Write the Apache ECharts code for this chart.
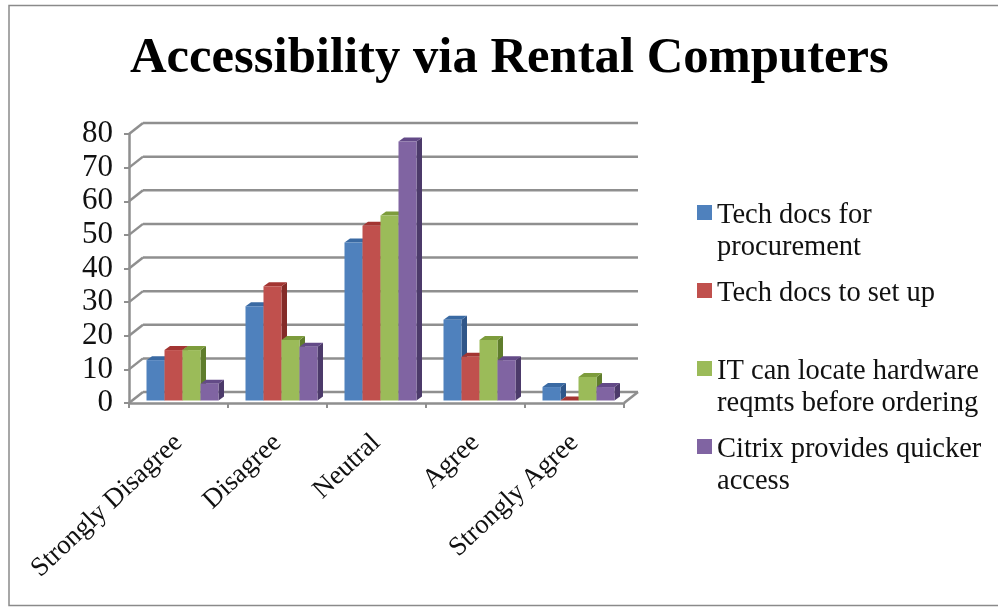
<!DOCTYPE html>
<html><head><meta charset="utf-8">
<style>html,body{margin:0;padding:0;background:#fff}#c{width:998px;height:607px}</style>
<script src="https://cdn.jsdelivr.net/npm/echarts@6/dist/echarts.min.js"></script>
</head><body><div id="c"></div>
<script>
const titleText = 'Accessibility via Rental Computers';
const categories = ['Strongly Disagree','Disagree','Neutral','Agree','Strongly Agree'];
const yTicks = [0,10,20,30,40,50,60,70,80];
const techProcurement = [12,28,47,24,4];
const techSetup = [15,34,52,13,0];
const itHardware = [15,18,55,18,7];
const citrix = [5,16,77,12,4];
const seriesNames = ['Tech docs for procurement','Tech docs to set up','IT can locate hardware reqmts before ordering','Citrix provides quicker access'];
const legendLabels = ['Tech docs for\nprocurement','Tech docs to set up','IT can locate hardware\nreqmts before ordering','Citrix provides quicker\naccess'];
const seriesValues = [techProcurement,techSetup,itHardware,citrix];
const colors = ['#4f81bd','#c0504d','#9bbb59','#8064a2'];
const topColors = ['#3a6aa3','#a33532','#7d9c3c','#634a87'];
const sideColors = ['#2f5689','#842b28','#5f7d2c','#4c3a6a'];
const legendTops = [201,279,357,435];

const FONT = 'Liberation Serif';
const GREY = '#8f8f8f';
const WALL = [14,-11], BAR_DEPTH = [5.5,-4], BAR_SHIFT = [4,-2.5], BAR_W = 18;

function renderBar(si){
  return function(params, api){
    const c = api.coord([api.value(0), api.value(1)]);
    const base = api.coord([api.value(0), 0]);
    const x = c[0] + BAR_SHIFT[0] + (si-2)*BAR_W;
    const y = c[1] + BAR_SHIFT[1], b = base[1] + BAR_SHIFT[1];
    const dx = BAR_DEPTH[0], dy = BAR_DEPTH[1];
    return {type:'group',children:[
      {type:'polygon',shape:{points:[[x+BAR_W,y],[x+BAR_W+dx,y+dy],[x+BAR_W+dx,b+dy],[x+BAR_W,b]]},style:{fill:sideColors[si]}},
      {type:'polygon',shape:{points:[[x,y],[x+dx,y+dy],[x+BAR_W+dx,y+dy],[x+BAR_W,y]]},style:{fill:topColors[si]}},
      {type:'rect',shape:{x:x,y:y,width:BAR_W,height:b-y},style:{fill:colors[si]}}
    ]};
  };
}
function renderWall(params, api){
  const v = api.value(0);
  const bw = api.size([1,0])[0];
  const p = api.coord([0,v]);
  const x0 = p[0]-bw/2, x1 = x0+bw*categories.length, y=p[1];
  const st = {stroke:GREY,lineWidth:2.5,fill:null};
  const kids = [
    {type:'line',shape:{x1:x0,y1:y,x2:x0+WALL[0],y2:y+WALL[1]},style:st},
    {type:'line',shape:{x1:x0+WALL[0],y1:y+WALL[1],x2:x1+WALL[0],y2:y+WALL[1]},style:st}
  ];
  if(v===0) kids.push({type:'line',shape:{x1:x1,y1:y,x2:x1+WALL[0],y2:y+WALL[1]},style:st});
  return {type:'group',children:kids};
}
const series = [{type:'custom',name:'walls',silent:true,z:1,coordinateSystem:'cartesian2d',clip:false,
  data:yTicks.map(t=>[t]),encode:{x:-1,y:0},renderItem:renderWall}];
seriesValues.forEach((vals,si)=>series.push({
  type:'custom',name:seriesNames[si],z:3+si,clip:false,coordinateSystem:'cartesian2d',
  itemStyle:{color:colors[si]},
  data:vals.map((v,i)=>[i,v]),encode:{x:0,y:1},renderItem:renderBar(si)}));

const legends = seriesNames.map((n,i)=>{
  const parts = legendLabels[i].split('\n');
  return {data:[{name:n,icon:'rect'}],left:697,top:legendTops[i],orient:'vertical',padding:0,
    itemWidth:15,itemHeight:15,itemGap:0,selectedMode:false,
    formatter:()=>parts.map(p=>'{t|'+p+'}').join('\n'),
    textStyle:{padding:[(parts.length-1)*32+6,0,0,0],
      rich:{t:{fontFamily:FONT,fontSize:28.5,lineHeight:32,color:'#111'}}}};
});
const chart = echarts.init(document.getElementById('c'),null,{renderer:'canvas'});
chart.setOption({
  animation:false,backgroundColor:'#fff',
  title:{text:titleText,left:130,top:33,padding:0,itemGap:0,
    textStyle:{fontFamily:FONT,fontSize:50.7,fontWeight:'bold',color:'#000'}},
  grid:{left:129,right:374,top:134,bottom:204,containLabel:false},
  legend:legends,
  xAxis:{type:'category',data:categories,
    axisLine:{lineStyle:{color:GREY,width:2.5}},
    axisTick:{show:true,alignWithLabel:false,length:5,lineStyle:{color:GREY,width:2}},
    axisLabel:{rotate:43,interval:0,fontFamily:FONT,fontSize:27,color:'#111',margin:36}},
  yAxis:{type:'value',min:0,max:80,interval:10,
    axisLine:{show:true,lineStyle:{color:GREY,width:2.5}},
    axisTick:{show:true,length:5,lineStyle:{color:GREY,width:2}},
    splitLine:{show:false},
    axisLabel:{fontFamily:FONT,fontSize:31,color:'#111',margin:16,padding:[4,0,0,0]}},
  graphic:[{type:'rect',silent:true,z:-1,shape:{x:9,y:5.5,width:1000,height:600},style:{fill:null,stroke:'#8a8a8a',lineWidth:1.5}}],
  series:series
});
</script></body></html>
